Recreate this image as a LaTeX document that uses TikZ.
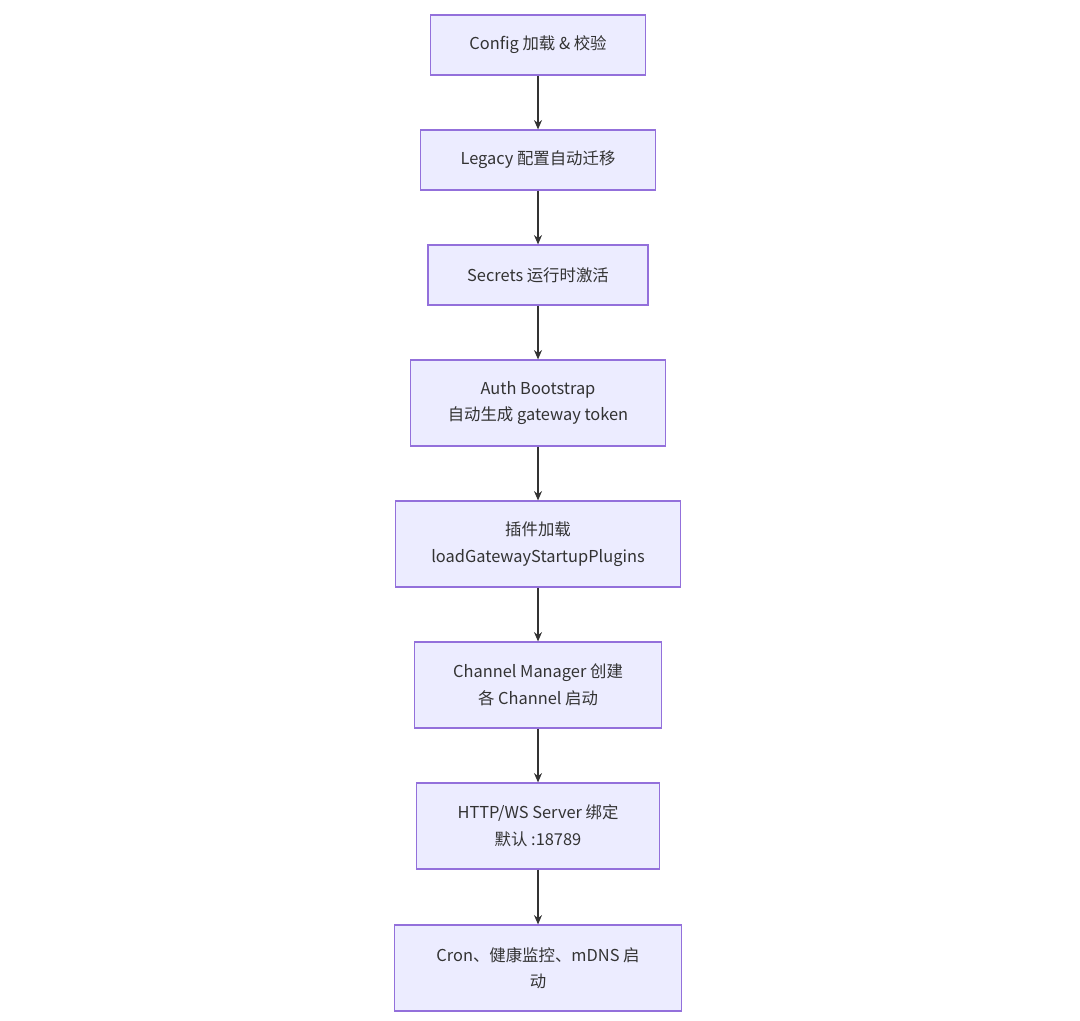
\documentclass[tikz,border=0pt]{standalone}
\usepackage{fontspec}
\setmainfont{Noto Sans CJK SC}
\usetikzlibrary{arrows.meta}
\definecolor{boxfill}{HTML}{ECECFF}
\definecolor{boxline}{HTML}{9370DB}
\definecolor{arrowc}{HTML}{333333}
\begin{document}
\begin{tikzpicture}[x=0.75pt,y=0.75pt,yscale=-1,xscale=1,
	stagebox/.style={draw=boxline,fill=boxfill,line width=0.9pt,align=center,
		inner sep=0pt,font=\fontsize{12.3}{20}\selectfont,text=arrowc},
	flow/.style={draw=arrowc,line width=0.9pt,-{Stealth[length=7pt,width=6pt]}}]
	\useasboundingbox (0,0) rectangle (1080,1020);
	% Steps
	\node[stagebox,minimum width=215*0.75pt,minimum height=60*0.75pt] (cfg) at (538,45) {Config 加载 \& 校验};
	\node[stagebox,minimum width=235*0.75pt,minimum height=60*0.75pt] (legacy) at (538,160) {Legacy 配置自动迁移};
	\node[stagebox,minimum width=220*0.75pt,minimum height=60*0.75pt] (secrets) at (538,275) {Secrets 运行时激活};
	\node[stagebox,minimum width=255*0.75pt,minimum height=86*0.75pt] (auth) at (538,403) {Auth Bootstrap\\自动生成 gateway token};
	\node[stagebox,minimum width=285*0.75pt,minimum height=86*0.75pt] (plugins) at (538,544) {插件加载\\loadGatewayStartupPlugins};
	\node[stagebox,minimum width=247*0.75pt,minimum height=86*0.75pt] (channel) at (538,685) {Channel Manager 创建\\各 Channel 启动};
	\node[stagebox,minimum width=243*0.75pt,minimum height=86*0.75pt] (server) at (538,826) {HTTP/WS Server 绑定\\默认 :18789};
	\node[stagebox,minimum width=287*0.75pt,minimum height=86*0.75pt] (cron) at (538,968) {Cron、健康监控、mDNS 启\\动};
	% Arrows
	\draw[flow] (cfg) -- (legacy);
	\draw[flow] (legacy) -- (secrets);
	\draw[flow] (secrets) -- (auth);
	\draw[flow] (auth) -- (plugins);
	\draw[flow] (plugins) -- (channel);
	\draw[flow] (channel) -- (server);
	\draw[flow] (server) -- (cron);
\end{tikzpicture}
\end{document}
